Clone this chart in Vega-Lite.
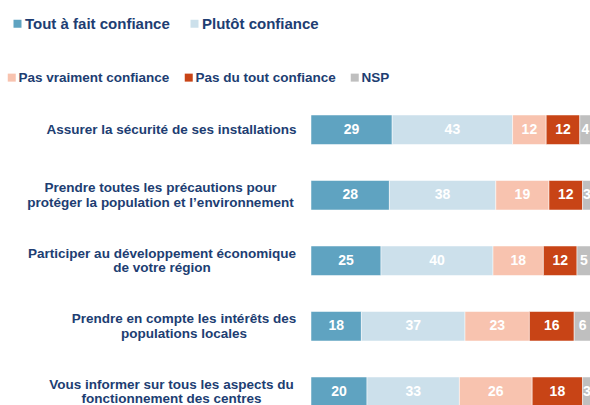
{
  "$schema": "https://vega.github.io/schema/vega-lite/v6.json",
  "width": 280,
  "height": 327.5,
  "autosize": {"type": "none"},
  "padding": {"left": 311, "top": 97, "right": 0, "bottom": 0},
  "background": "white",
  "config": {"view": {"stroke": null}},
  "data": {
    "values": [
      {"q": "Assurer la sécurité de ses installations", "cat": "Tout à fait confiance", "o": 1, "v": 29},
      {"q": "Assurer la sécurité de ses installations", "cat": "Plutôt confiance", "o": 2, "v": 43},
      {"q": "Assurer la sécurité de ses installations", "cat": "Pas vraiment  confiance", "o": 3, "v": 12},
      {"q": "Assurer la sécurité de ses installations", "cat": "Pas du tout  confiance", "o": 4, "v": 12},
      {"q": "Assurer la sécurité de ses installations", "cat": "NSP", "o": 5, "v": 4},
      {"q": "Prendre toutes les précautions pour|protéger la population et l’environnement", "cat": "Tout à fait confiance", "o": 1, "v": 28},
      {"q": "Prendre toutes les précautions pour|protéger la population et l’environnement", "cat": "Plutôt confiance", "o": 2, "v": 38},
      {"q": "Prendre toutes les précautions pour|protéger la population et l’environnement", "cat": "Pas vraiment  confiance", "o": 3, "v": 19},
      {"q": "Prendre toutes les précautions pour|protéger la population et l’environnement", "cat": "Pas du tout  confiance", "o": 4, "v": 12},
      {"q": "Prendre toutes les précautions pour|protéger la population et l’environnement", "cat": "NSP", "o": 5, "v": 3},
      {"q": "Participer au développement économique|de votre région", "cat": "Tout à fait confiance", "o": 1, "v": 25},
      {"q": "Participer au développement économique|de votre région", "cat": "Plutôt confiance", "o": 2, "v": 40},
      {"q": "Participer au développement économique|de votre région", "cat": "Pas vraiment  confiance", "o": 3, "v": 18},
      {"q": "Participer au développement économique|de votre région", "cat": "Pas du tout  confiance", "o": 4, "v": 12},
      {"q": "Participer au développement économique|de votre région", "cat": "NSP", "o": 5, "v": 5},
      {"q": "Prendre en compte les intérêts des|populations locales", "cat": "Tout à fait confiance", "o": 1, "v": 18},
      {"q": "Prendre en compte les intérêts des|populations locales", "cat": "Plutôt confiance", "o": 2, "v": 37},
      {"q": "Prendre en compte les intérêts des|populations locales", "cat": "Pas vraiment  confiance", "o": 3, "v": 23},
      {"q": "Prendre en compte les intérêts des|populations locales", "cat": "Pas du tout  confiance", "o": 4, "v": 16},
      {"q": "Prendre en compte les intérêts des|populations locales", "cat": "NSP", "o": 5, "v": 6},
      {"q": "Vous informer sur tous les aspects du|fonctionnement des centres", "cat": "Tout à fait confiance", "o": 1, "v": 20},
      {"q": "Vous informer sur tous les aspects du|fonctionnement des centres", "cat": "Plutôt confiance", "o": 2, "v": 33},
      {"q": "Vous informer sur tous les aspects du|fonctionnement des centres", "cat": "Pas vraiment  confiance", "o": 3, "v": 26},
      {"q": "Vous informer sur tous les aspects du|fonctionnement des centres", "cat": "Pas du tout  confiance", "o": 4, "v": 18},
      {"q": "Vous informer sur tous les aspects du|fonctionnement des centres", "cat": "NSP", "o": 5, "v": 3}
    ]
  },
  "transform": [
    {"stack": "v", "groupby": ["q"], "sort": [{"field": "o", "order": "ascending"}], "as": ["x0", "x1"]}
  ],
  "encoding": {
    "y": {
      "field": "q",
      "type": "nominal",
      "sort": null,
      "scale": {"paddingInner": 0.55, "paddingOuter": 0.275},
      "axis": {
        "title": null,
        "domain": false,
        "ticks": false,
        "labelAlign": "center",
        "labelPadding": {
          "condition": [
            {"test": "indexof(datum.value, 'précautions') >= 0", "value": 151},
            {"test": "indexof(datum.value, 'économique') >= 0", "value": 149.5},
            {"test": "indexof(datum.value, 'intérêts') >= 0", "value": 127.5}
          ],
          "value": 140
        },
        "labelOffset": {
          "condition": {"test": "indexof(datum.value, '|') >= 0", "value": -7.25},
          "value": 0
        },
        "labelLimit": 400,
        "labelFont": "Liberation Sans",
        "labelFontWeight": "bold",
        "labelFontSize": 13.5,
        "labelLineHeight": 14.5,
        "labelColor": "#203D72",
        "labelExpr": "split(datum.label, '|')"
      }
    }
  },
  "layer": [
    {
      "transform": [{"filter": "datum.o <= 2"}],
      "mark": {"type": "bar", "stroke": "white", "strokeWidth": 0.5},
      "encoding": {
        "x": {"field": "x0", "type": "quantitative", "scale": {"domain": [0, 100], "nice": false}, "axis": null},
        "x2": {"field": "x1"},
        "color": {
          "field": "cat",
          "type": "nominal",
          "scale": {"domain": ["Tout à fait confiance", "Plutôt confiance"], "range": ["#5FA3C1", "#CCE0EB"]},
          "legend": {
            "title": null,
            "orient": "none",
            "legendX": -301,
            "legendY": -81,
            "direction": "horizontal",
            "symbolType": "square",
            "symbolSize": 64,
            "symbolStrokeWidth": 0,
            "labelFont": "Liberation Sans",
            "labelFontWeight": "bold",
            "labelFontSize": 15,
            "labelColor": "#203D72",
            "labelOffset": 0,
            "columnPadding": 17,
            "labelLimit": 300,
            "padding": 0
          }
        }
      }
    },
    {
      "transform": [{"filter": "datum.o > 2"}],
      "mark": {"type": "bar", "stroke": "white", "strokeWidth": 0.5},
      "encoding": {
        "x": {"field": "x0", "type": "quantitative", "scale": {"domain": [0, 100], "nice": false}, "axis": null},
        "x2": {"field": "x1"},
        "color": {
          "field": "cat",
          "type": "nominal",
          "scale": {"domain": ["Pas vraiment  confiance", "Pas du tout  confiance", "NSP"], "range": ["#F8C3AF", "#C84416", "#BFBFBF"]},
          "legend": {
            "title": null,
            "orient": "none",
            "legendX": -306,
            "legendY": -26.5,
            "direction": "horizontal",
            "symbolType": "square",
            "symbolSize": 64,
            "symbolStrokeWidth": 0,
            "labelFont": "Liberation Sans",
            "labelFontWeight": "bold",
            "labelFontSize": 13.5,
            "labelColor": "#203D72",
            "labelOffset": 0,
            "columnPadding": 8,
            "labelLimit": 300,
            "padding": 0
          }
        }
      }
    },
    {
      "transform": [{"calculate": "(datum.x0 + datum.x1) / 2", "as": "xm"}],
      "mark": {"type": "text", "color": "white", "font": "Liberation Sans", "fontWeight": "bold", "fontSize": 14, "baseline": "middle", "align": "center"},
      "encoding": {
        "x": {"field": "xm", "type": "quantitative", "scale": {"domain": [0, 100], "nice": false}, "axis": null},
        "text": {"field": "v", "type": "quantitative"}
      }
    }
  ],
  "resolve": {"scale": {"color": "independent"}}
}
